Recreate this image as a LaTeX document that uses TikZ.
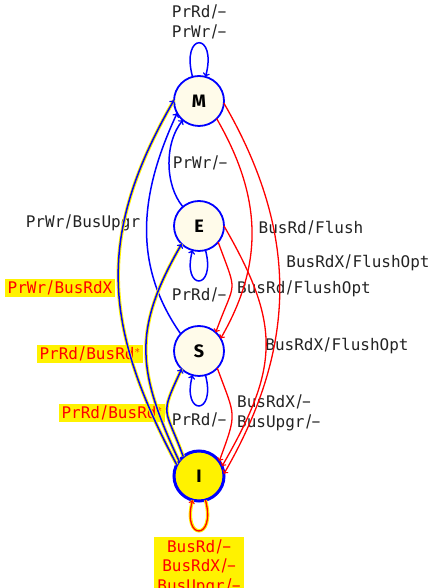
\documentclass[tikz,border=0pt]{standalone}
\usepackage{fontspec}
\setmainfont{Fira Sans}
\setmonofont{DejaVu Sans Mono}
\usetikzlibrary{positioning}
\definecolor{cream}{RGB}{255,251,234}
\definecolor{ink}{RGB}{35,35,35}
\tikzstyle{state} = [draw=blue,line width=1.8pt,circle,fill=cream,minimum size=50pt,inner sep=0,outer sep=0,text=black,font=\fontsize{18}{20}\selectfont\bfseries]
\tikzstyle{invalid} = [state,fill=yellow,line width=3pt]
\tikzstyle{msg} = [text=ink,font=\fontsize{16}{19.5}\selectfont,align=center,inner xsep=3pt,inner ysep=2pt]
\tikzstyle{hotmsg} = [msg,fill=yellow,text=red]
\tikzstyle{pr} = [->,draw=blue,line width=1.5pt]
\tikzstyle{bus} = [->,draw=red,line width=1.3pt]
\tikzstyle{hot} = [preaction={draw=yellow,line width=3.4pt,-}]
\def \nd {75pt}
\newcommand{\sg}[1]{\texttt{#1}}

\begin{document}
\begin{tikzpicture}[x=1pt,y=1pt]
  \useasboundingbox (0,0) rectangle (431,588);
  % states
  \node[state] (M) at (199,487) {M};
  \node[state,below=\nd of M] (E) {E};
  \node[state,below=\nd of E] (S) {S};
  \node[invalid,below=\nd of S] (I) {I};
  % labels
  \node[msg] (mloop) at (199,566) {\sg{PrRd}/--\\\sg{PrWr}/--};
  \node[msg] (em) at (200,425) {\sg{PrWr}/--};
  \node[msg] (sm) at (83,365) {\sg{PrWr}/\sg{BusUpgr}};
  \node[hotmsg] (im) at (60,300) {\sg{PrWr}/\sg{BusRdX}};
  \node[hotmsg] (ie) at (90,234) {\sg{PrRd}/\sg{BusRd}$^*$};
  \node[hotmsg] (is) at (112,175) {\sg{PrRd}/\sg{BusRd}$^*$};
  \node[msg] (ms) at (311,360) {\sg{BusRd}/\sg{Flush}};
  \node[msg] (mi) at (358,325) {\sg{BusRdX}/\sg{FlushOpt}};
  \node[msg] (es) at (304,299) {\sg{BusRd}/\sg{FlushOpt}};
  \node[msg] (ei) at (337,242) {\sg{BusRdX}/\sg{FlushOpt}};
  \node[msg,anchor=west,align=left] (si) at (234,175) {\sg{BusRdX}/--\\\sg{BusUpgr}/--};
  \node[msg] (eloop) at (199,293) {\sg{PrRd}/--};
  \node[msg] (sloop) at (199,168) {\sg{PrRd}/--};
  \node[hotmsg,anchor=north] (iloop) at (199,51) {\sg{BusRd}/--\\\sg{BusRdX}/--\\\sg{BusUpgr}/--};
  % processor side
  \draw[pr] (M) to[out=105,in=75,looseness=9.3] (M);
  \draw[pr] (E) to[out=285,in=255,looseness=8.4] (E);
  \draw[pr] (S) to[out=285,in=255,looseness=8.4] (S);
  \draw[pr] (E) to[out=130,in=230,looseness=0.85] (M);
  \draw[pr] (S.137) to[out=125,in=245,looseness=1] (M.209);
  \draw[pr,hot] (I.153) to[out=118,in=240,looseness=1.1] (M.178);
  \draw[pr,hot] (I.143) to[out=115,in=240,looseness=1.17] (E.226);
  \draw[pr,hot] (I.129) to[out=110,in=245,looseness=1.57] (S.226);
  % bus side
  \draw[bus,hot] (I) to[out=285,in=255,looseness=8.4] (I);
  \draw[bus] (M.315) to[out=-60,in=60,looseness=1.03] (S.30);
  \draw[bus] (M.355) to[out=-60,in=60,looseness=1.03] (I.5);
  \draw[bus] (E.320) to[out=-70,in=70,looseness=1.65] (S.48);
  \draw[bus] (E.0) to[out=-60,in=60,looseness=1.22] (I.23);
  \draw[bus] (S.317) to[out=-70,in=70,looseness=1.47] (I.36);
\end{tikzpicture}
\end{document}
